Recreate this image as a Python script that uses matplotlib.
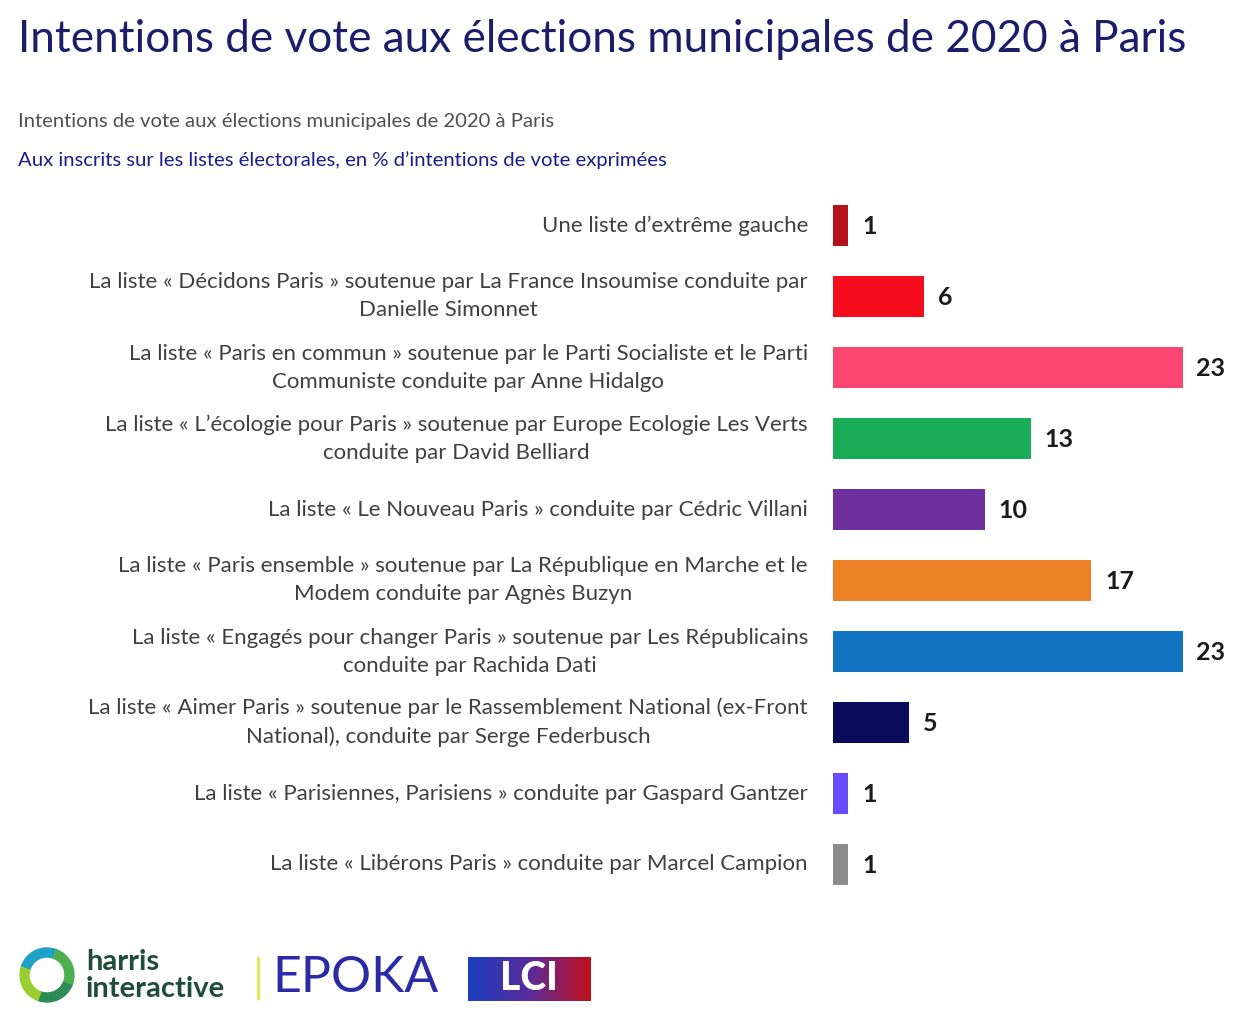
import matplotlib
matplotlib.use("Agg")
import matplotlib.pyplot as plt
import numpy as np
from matplotlib.patches import Wedge
from matplotlib.colors import LinearSegmentedColormap

plt.rcParams['font.family'] = ['Lato', 'DejaVu Sans']

labels = [
    "Une liste d\u2019extrême gauche",
    "La liste « Décidons Paris » soutenue par La France Insoumise conduite par\nDanielle Simonnet",
    "La liste « Paris en commun » soutenue par le Parti Socialiste et le Parti\nCommuniste conduite par Anne Hidalgo",
    "La liste « L\u2019écologie pour Paris » soutenue par Europe Ecologie Les Verts\nconduite par David Belliard",
    "La liste « Le Nouveau Paris » conduite par Cédric Villani",
    "La liste « Paris ensemble » soutenue par La République en Marche et le\nModem conduite par Agnès Buzyn",
    "La liste « Engagés pour changer Paris » soutenue par Les Républicains\nconduite par Rachida Dati",
    "La liste « Aimer Paris » soutenue par le Rassemblement National (ex-Front\nNational), conduite par Serge Federbusch",
    "La liste « Parisiennes, Parisiens » conduite par Gaspard Gantzer",
    "La liste « Libérons Paris » conduite par Marcel Campion",
]
values = [1, 6, 23, 13, 10, 17, 23, 5, 1, 1]
colors = ["#b5121b", "#f50d1e", "#fb4671", "#1aac57", "#6f30a0", "#ec8024",
          "#1173c1", "#0b0b5c", "#6a4cff", "#8c8c8c"]

title = "Intentions de vote aux élections municipales de 2020 à Paris"
subtitle1 = "Intentions de vote aux élections municipales de 2020 à Paris"
subtitle2 = "Aux inscrits sur les listes électorales, en % d\u2019intentions de vote exprimées"

W, H = 1260, 1029
fig = plt.figure(figsize=(W / 100, H / 100), dpi=100)
fig.patch.set_facecolor("white")

# axes: x 833..1260 px, y 190..900 px
ax = fig.add_axes([833 / W, 1 - 900 / H, (1260 - 833) / W, 710 / H])
y = np.arange(len(values))
ax.barh(y, values, height=0.59, color=colors, left=0)
ax.set_xlim(0, 427 / 15.2)
ax.set_ylim(len(values) - 0.5, -0.5)
ax.axis("off")
for yi, v in zip(y, values):
    ax.annotate(str(v), (v, yi), xytext=(10, -1), textcoords="offset points",
                ha="left", va="center", fontsize=18, fontweight="bold", color="#1a1a1a")
for yi, lab in zip(y, labels):
    ax.annotate(lab, (0, yi), xytext=(-18, 0), textcoords="offset points",
                ha="right", va="center", multialignment="center",
                fontsize=16, color="#404040", linespacing=1.5)

fig.text(18 / W, 1 - 40 / H, title, fontsize=31.8, color="#1c1c6b", ha="left", va="center")
fig.text(18 / W, 1 - 121 / H, subtitle1, fontsize=14.6, color="#505050", ha="left", va="center")
fig.text(18 / W, 1 - 160 / H, subtitle2, fontsize=14.6, color="#1c1c8b", ha="left", va="center")

# footer logos (approximation)
lax = fig.add_axes([0, 0, 1, 1], facecolor="none")
lax.set_xlim(0, W)
lax.set_ylim(H, 0)
lax.axis("off")
ring_cols = ["#2e8b57", "#9acd32", "#1fa0c8", "#4caf50"]
for i, c in enumerate(ring_cols):
    lax.add_patch(Wedge((47, 975), 27, 90 * i + 20, 90 * (i + 1) + 20, width=9, color=c))
lax.text(86, 962, "harris", fontsize=21, fontweight="bold", color="#1f4d3a", va="center", ha="left")
lax.text(86, 989, "interactive", fontsize=21, fontweight="bold", color="#1f4d3a", va="center", ha="left")
lax.plot([258, 258], [958, 998], color="#e3e36a", lw=2.5)
lax.text(272, 978, "EPOKA", fontsize=36, color="#2b2ba8", va="center", ha="left")
grad = np.linspace(0, 1, 200).reshape(1, -1)
cm = LinearSegmentedColormap.from_list("lci", ["#1b3fbf", "#5a2a9a", "#c0101c"])
lax.imshow(grad, extent=[468, 591, 1001, 957], cmap=cm, aspect="auto", zorder=1)
lax.text(529, 979, "LCI", fontsize=28, fontweight="black", color="white",
         va="center", ha="center", zorder=2)
lax.set_xlim(0, W)
lax.set_ylim(H, 0)

fig.savefig("out.png", dpi=100, facecolor="white")
